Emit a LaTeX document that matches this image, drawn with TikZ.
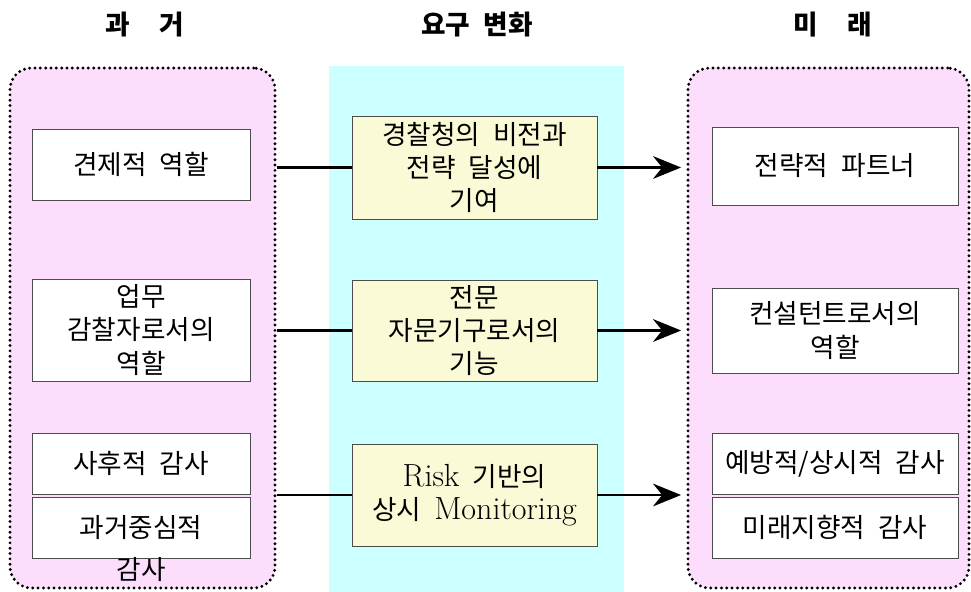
\documentclass[tikz,border=0pt]{standalone}
\usepackage{fontspec}
\newfontfamily\kr[WordSpace=2.2]{Noto Sans CJK KR}
\usetikzlibrary{arrows.meta}
\definecolor{mypink}{RGB}{252,222,252}
\definecolor{mycyan}{RGB}{204,255,255}
\definecolor{myyellow}{RGB}{250,250,214}

\tikzset{
  frame/.style={draw=black, fill=mypink, rounded corners=16pt, line width=2.4pt,
    dash pattern=on 0pt off 4pt, line cap=round, inner sep=0pt},
  band/.style={fill=mycyan, inner sep=0pt},
  box/.style={draw=black!70, fill=white, line width=0.7pt, align=center, inner sep=0pt,
    font=\kr\fontsize{20}{25}\selectfont},
  midbox/.style={box, fill=myyellow, minimum width=183.75pt},
  latin/.style={font=\rmfamily\fontsize{24}{25}\selectfont},
  title/.style={font=\kr\bfseries\fontsize{20}{24}\selectfont},
  link/.style={line width=2.2pt},
  arrow/.style={link, -{Stealth[length=21pt, width=17pt]}, shorten >=4pt}
}

\begin{document}
\begin{tikzpicture}[x=0.75pt, y=-0.75pt]
\useasboundingbox (0,0) rectangle (971,592);
% columns
\node[band, minimum width=221.25pt, minimum height=394.5pt] (midband) at (476.5,329) {};
\node[frame, minimum width=198.75pt, minimum height=390pt] (pastframe) at (142.5,328) {};
\node[frame, minimum width=210.75pt, minimum height=390pt] (futframe) at (828.5,328) {};
\node[title] (pasttitle) at (145,25) {과\hspace{1.1em}거};
\node[title] (midtitle) at (477,25) {요구 변화};
\node[title] (futtitle) at (833,25) {미\hspace{1.1em}래};
% past
\tikzset{box/.append style={minimum width=163.5pt}}
\node[box, minimum height=53.25pt] (past1) at (141,164.5) {견제적 역할};
\node[box, minimum height=76.5pt] (past2) at (141,330) {업무\\감찰자로서의\\역할};
\node[box, minimum height=45.75pt] (past3) at (141,463.5) {사후적 감사};
\node[box, minimum height=45.75pt] (past4) at (141,527.5) {과거중심적};
\node[font=\kr\fontsize{20}{25}\selectfont] (past4tail) at (141,570) {감사};
% change
\node[midbox, minimum height=77.25pt] (mid1) at (474.5,167.5) {경찰청의 비전과\\전략 달성에\\기여};
\node[midbox, minimum height=75.75pt] (mid2) at (474.5,330.5) {전문\\자문기구로서의\\기능};
\node[midbox, minimum height=76.5pt] (mid3) at (474.5,495) {{\rmfamily\fontsize{24}{25}\selectfont Risk} 기반의\\상시 {\rmfamily\fontsize{24}{25}\selectfont Monitoring}};
% future
\tikzset{box/.append style={minimum width=184.5pt}}
\node[box, minimum height=58.5pt] (fut1) at (835,166) {전략적 파트너};
\node[box, minimum height=63.75pt] (fut2) at (835,330.5) {컨설턴트로서의\\역할};
\node[box, minimum height=45.75pt] (fut3) at (835,463.5) {예방적/상시적 감사};
\node[box, minimum height=45.75pt] (fut4) at (835,527.5) {미래지향적 감사};
% links
\foreach \m in {mid1,mid2,mid3}{
  \draw[link] (pastframe.east |- \m.west) -- (\m.west);
  \draw[arrow] (\m.east) -- (futframe.west |- \m.east);
}
\end{tikzpicture}
\end{document}
